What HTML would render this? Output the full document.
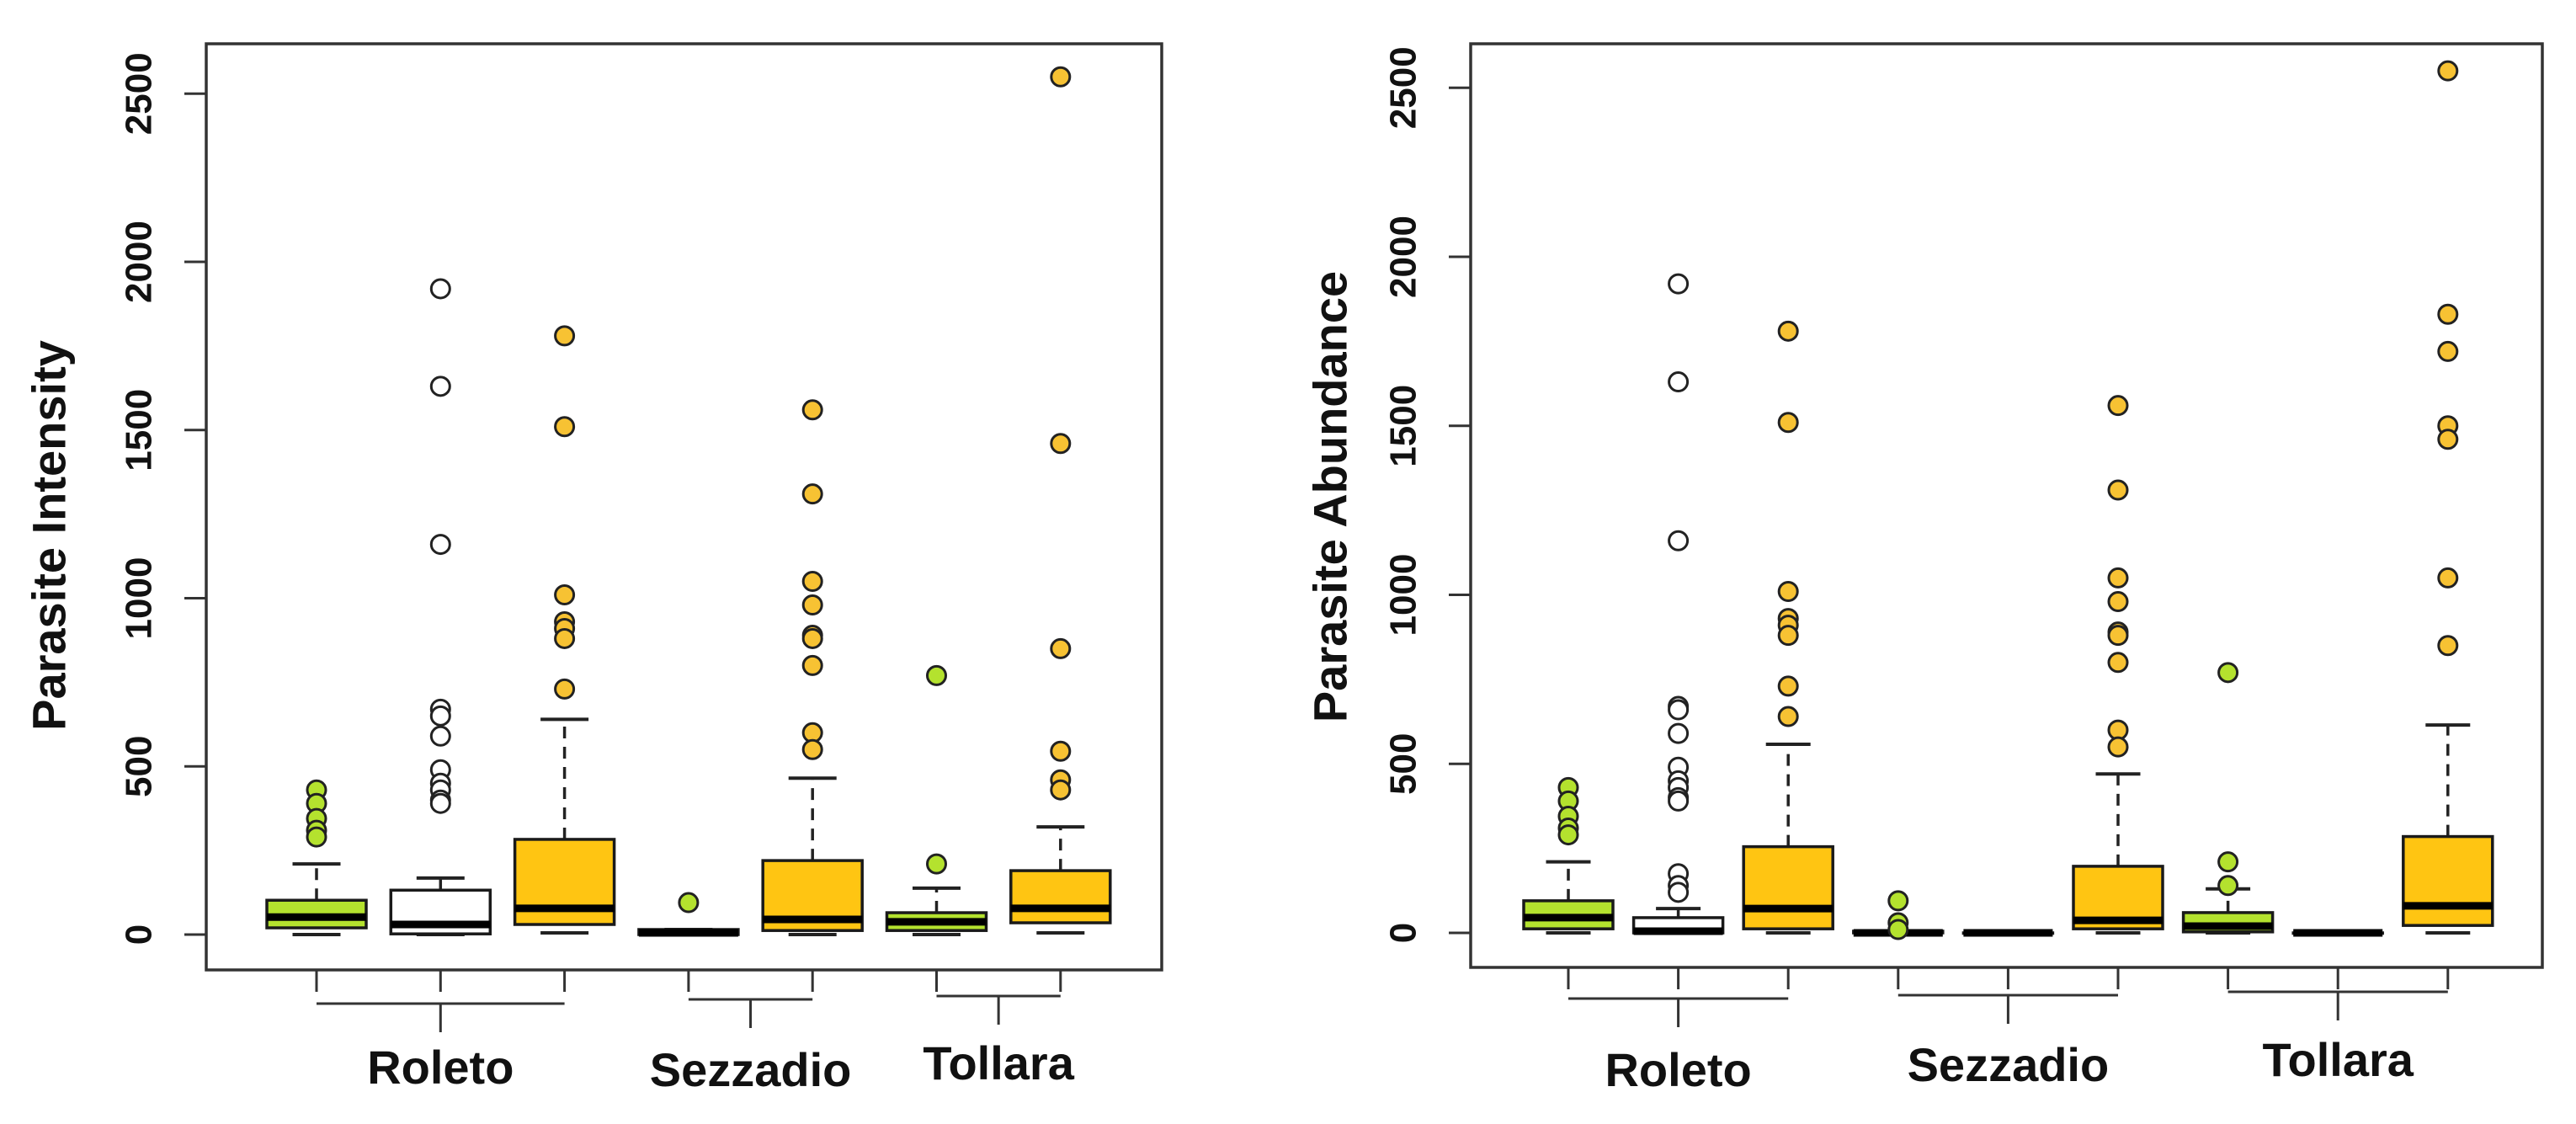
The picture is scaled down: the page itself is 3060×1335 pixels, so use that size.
<!DOCTYPE html>
<html><head><meta charset="utf-8"><style>
html,body{margin:0;padding:0;background:#fff;}
svg{display:block;}
text{font-family:"Liberation Sans",Arial,sans-serif;fill:#111;}
</style></head><body>
<svg id="chart" width="3060" height="1335" viewBox="0 0 3060 1335" xmlns="http://www.w3.org/2000/svg"></svg>
<script>
// ===== Data: Parasite Intensity (left panel) =====
const intFill = ['green','white','orange','green','orange','green','orange'];
const intQ1  = [20, 2, 30, 0, 12, 12, 35];
const intMed = [52, 30, 78, 5, 45, 38, 78];
const intQ3  = [102, 132, 283, 15, 220, 65, 190];
const intLo  = [0, 0, 5, 0, 0, 0, 5];
const intHi  = [210, 168, 640, 15, 465, 138, 320];
const intOut = [
  [430, 390, 345, 310, 290],
  [1920, 1630, 1160, 670, 650, 590, 490, 450, 430, 400, 390],
  [1780, 1510, 1010, 930, 910, 880, 730],
  [95],
  [1560, 1310, 1050, 980, 890, 880, 800, 600, 550],
  [770, 210],
  [2550, 1460, 850, 545, 460, 430]
];
const intGroups = ['Roleto', 'Sezzadio', 'Tollara'];
const intGroupMembers = [[0,1,2],[3,4],[5,6]];

// ===== Data: Parasite Abundance (right panel) =====
const abFill = ['green','white','orange','green','white','orange','green','white','orange'];
const abQ1  = [12, 0, 12, 0, 0, 12, 3, 0, 22];
const abMed = [45, 5, 72, 0, 0, 37, 20, 0, 80];
const abQ3  = [95, 45, 255, 5, 0, 197, 60, 0, 285];
const abLo  = [0, 0, 0, 0, 0, 0, 0, 0, 0];
const abHi  = [210, 72, 558, 5, 0, 470, 130, 0, 615];
const abOut = [
  [430, 390, 345, 310, 290],
  [1920, 1630, 1160, 670, 660, 590, 490, 450, 430, 400, 390, 175, 140, 120],
  [1780, 1510, 1010, 930, 910, 880, 730, 640],
  [95, 30, 10],
  [],
  [1560, 1310, 1050, 980, 890, 880, 800, 600, 550],
  [770, 210, 140],
  [],
  [2550, 1830, 1720, 1500, 1460, 1050, 850]
];
const abGroups = ['Roleto', 'Sezzadio', 'Tollara'];
const abGroupMembers = [[0,1,2],[3,4,5],[6,7,8]];

const yTicks = [0, 500, 1000, 1500, 2000, 2500];

const NS = 'http://www.w3.org/2000/svg';
const svg = document.getElementById('chart');
const COLORS = {green:'#b4e22e', white:'#ffffff', orange:'#ffc512'};
const PT = {green:'#b4e22e', white:'#ffffff', orange:'#f7c233'};

function mk(tag, attrs, parent){
  const e = document.createElementNS(NS, tag);
  for (const k in attrs) e.setAttribute(k, attrs[k]);
  (parent||svg).appendChild(e);
  return e;
}

function drawPanel(p){
  const g = mk('g', {});
  
  
  const y = v => p.y0 - v * p.scale;
  const x = i => p.x0 + i * p.step;

  const frame = mk('rect', {x:p.left, y:p.top, width:p.right-p.left, height:p.bottom-p.top, fill:'none', stroke:'#333', 'stroke-width':3.5}, g);
  
  

  yTicks.forEach(t => {
    const tk = mk('line', {x1:p.left-26, x2:p.left, y1:y(t), y2:y(t), stroke:'#333', 'stroke-width':3}, g);
    
    
    const lx = p.left - 80;
    const tl = mk('text', {x:lx, y:y(t), 'font-size':44, 'font-weight':'bold', 'text-anchor':'middle', 'dominant-baseline':'central', transform:`rotate(-90 ${lx} ${y(t)})`}, g);
    tl.textContent = t;
    
    
  });

  const yt = mk('text', {x:p.titleX, y:p.titleY, 'font-size':56, 'font-weight':'bold', 'text-anchor':'middle', 'dominant-baseline':'central', transform:`rotate(-90 ${p.titleX} ${p.titleY})`}, g);
  yt.textContent = p.title;
  
  

  const n = p.q1.length;
  for (let i = 0; i < n; i++){
    const cx = x(i), hw = p.boxW/2, cw = p.capW/2;
    const bg = mk('g', {}, g);
    
    
    const xt = mk('line', {x1:cx, x2:cx, y1:p.bottom, y2:p.bottom+26, stroke:'#333', 'stroke-width':3}, bg);
    
    
    if (p.hi[i] > p.q3[i]){
      const w = mk('line', {x1:cx, x2:cx, y1:y(p.q3[i]), y2:y(p.hi[i]), stroke:'#222', 'stroke-width':3.5, 'stroke-dasharray':'14 10'}, bg);
      
      
    }
    if (p.hi[i] > 0){
      const c = mk('line', {x1:cx-cw, x2:cx+cw, y1:y(p.hi[i]), y2:y(p.hi[i]), stroke:'#222', 'stroke-width':4}, bg);
      
      
      const c2 = mk('line', {x1:cx-cw, x2:cx+cw, y1:y(p.lo[i]), y2:y(p.lo[i]), stroke:'#222', 'stroke-width':4}, bg);
      
      
    }
    const hgt = Math.max(y(p.q1[i]) - y(p.q3[i]), 0.5);
    const r = mk('rect', {x:cx-hw, y:y(p.q3[i]), width:p.boxW, height:hgt, fill:COLORS[p.fill[i]], stroke:'#1a1a1a', 'stroke-width':3.5}, bg);
    
    
    const m = mk('line', {x1:cx-hw, x2:cx+hw, y1:y(p.med[i]), y2:y(p.med[i]), stroke:'#000', 'stroke-width':9}, bg);
    
    
    p.out[i].forEach(v => {
      const o = mk('circle', {cx:cx, cy:y(v), r:11, fill:PT[p.fill[i]], stroke:'#222', 'stroke-width':3}, bg);
      
      
    });
  }

  p.groups.forEach((name, gi) => {
    const mem = p.members[gi];
    const xa = x(mem[0]), xb = x(mem[mem.length-1]), xc = (xa+xb)/2;
    const by = p.bracketY[gi];
    const bl = mk('line', {x1:xa, x2:xb, y1:by, y2:by, stroke:'#333', 'stroke-width':3}, g);
    
    
    const bt = mk('line', {x1:xc, x2:xc, y1:by, y2:by+34, stroke:'#333', 'stroke-width':3}, g);
    
    
    const lab = mk('text', {x:xc, y:p.labelY[gi], 'font-size':56, 'font-weight':'bold', 'text-anchor':'middle'}, g);
    lab.textContent = name;
    
    
  });
}

drawPanel({
  name:'intensity-panel', title:'Parasite Intensity',
  left:245, right:1380, top:52, bottom:1152,
  y0:1110, scale:0.3995, x0:376, step:147.3, boxW:118, capW:57,
  titleX:58, titleY:636,
  q1:intQ1, med:intMed, q3:intQ3, lo:intLo, hi:intHi, out:intOut, fill:intFill,
  groups:intGroups, members:intGroupMembers,
  bracketY:[1192, 1187, 1183], labelY:[1287, 1290, 1282]
});
drawPanel({
  name:'abundance-panel', title:'Parasite Abundance',
  left:1747, right:3020, top:52, bottom:1149,
  y0:1108, scale:0.4015, x0:1863, step:130.6, boxW:106, capW:53,
  titleX:1580, titleY:590,
  q1:abQ1, med:abMed, q3:abQ3, lo:abLo, hi:abHi, out:abOut, fill:abFill,
  groups:abGroups, members:abGroupMembers,
  bracketY:[1186, 1182, 1178], labelY:[1290, 1284, 1278]
});
</script>
</body></html>
